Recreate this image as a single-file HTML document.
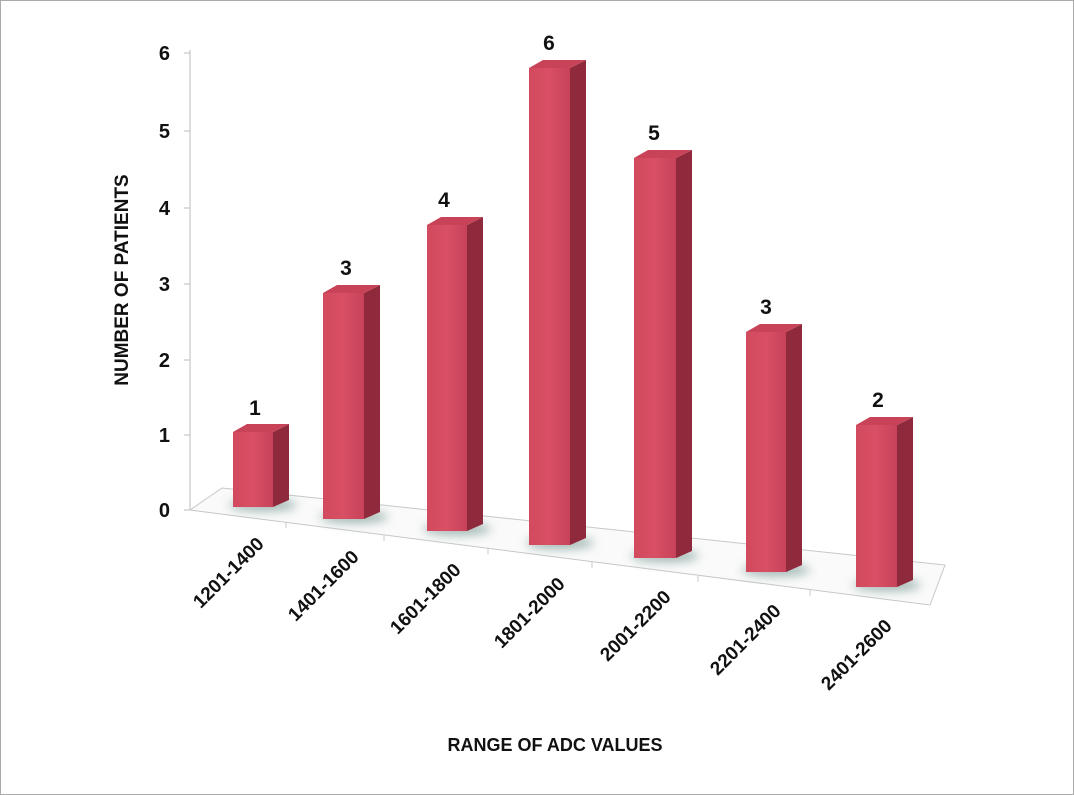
<!DOCTYPE html>
<html><head><style>body{margin:0;background:#fff}svg{display:block}text{font-family:"Liberation Sans",Arial,sans-serif;font-weight:bold;fill:#111}</style></head>
<body>
<svg width="1074" height="795" viewBox="0 0 1074 795">
<defs>
<linearGradient id="fr" x1="0" x2="1"><stop offset="0" stop-color="#d24a5e"/><stop offset="0.5" stop-color="#d94f64"/><stop offset="1" stop-color="#c7425a"/></linearGradient>
<filter id="bl" x="-50%" y="-200%" width="200%" height="500%"><feGaussianBlur stdDeviation="5"/></filter>
</defs>
<rect x="0.5" y="0.5" width="1073" height="794" fill="#fff" stroke="#aaa"/>
<line x1="190" y1="50" x2="190" y2="510" stroke="#bbb"/>
<g stroke="#bbb"><line x1="184" y1="53" x2="190" y2="53"/><line x1="184" y1="131" x2="190" y2="131"/><line x1="184" y1="208" x2="190" y2="208"/><line x1="184" y1="284" x2="190" y2="284"/><line x1="184" y1="360" x2="190" y2="360"/><line x1="184" y1="435" x2="190" y2="435"/><line x1="184" y1="510" x2="190" y2="510"/></g>
<polygon points="190,510 222,488 945,565 930,605" fill="#fafafa" stroke="#c8c8c8"/>
<g stroke="#c8c8c8"><line x1="286" y1="522" x2="286" y2="528"/><line x1="384" y1="535" x2="384" y2="541"/><line x1="488" y1="548" x2="488" y2="554"/><line x1="592" y1="562" x2="592" y2="568"/><line x1="698" y1="576" x2="698" y2="582"/><line x1="810" y1="590" x2="810" y2="596"/></g>
<g font-size="20" text-anchor="end">
<text x="170" y="60">6</text><text x="170" y="138">5</text><text x="170" y="215">4</text><text x="170" y="291">3</text><text x="170" y="367">2</text><text x="170" y="442">1</text><text x="170" y="517">0</text></g>

<g fill="#7f9d98" opacity="0.75" filter="url(#bl)">
<ellipse cx="263" cy="505" rx="34" ry="6"/><ellipse cx="354" cy="517" rx="34" ry="6"/><ellipse cx="457" cy="529" rx="34" ry="6"/><ellipse cx="560" cy="543" rx="34" ry="6"/><ellipse cx="665" cy="556" rx="34" ry="6"/><ellipse cx="776" cy="570" rx="34" ry="6"/><ellipse cx="887" cy="585" rx="34" ry="6"/>
</g>
<g fill="#8e2a3b">
<polygon points="273,432 289,424 289,500 273,507"/>
<polygon points="364,293 380,285 380,512 364,519"/>
<polygon points="467,225 483,217 483,524 467,531"/>
<polygon points="570,68 586,60 586,538 570,545"/>
<polygon points="676,158 692,150 692,551 676,558"/>
<polygon points="786,332 802,324 802,565 786,572"/>
<polygon points="897,425 913,417 913,580 897,587"/>
</g>
<g fill="#c84258">
<polygon points="233,432 247,424 289,424 273,432"/>
<polygon points="323,293 337,285 380,285 364,293"/>
<polygon points="427,225 441,217 483,217 467,225"/>
<polygon points="529,68 543,60 586,60 570,68"/>
<polygon points="634,158 648,150 692,150 676,158"/>
<polygon points="746,332 760,324 802,324 786,332"/>
<polygon points="856,425 870,417 913,417 897,425"/>
</g>
<g fill="url(#fr)">
<rect x="233" y="432" width="40" height="75"/>
<rect x="323" y="293" width="41" height="226"/>
<rect x="427" y="225" width="40" height="306"/>
<rect x="529" y="68" width="41" height="477"/>
<rect x="634" y="158" width="42" height="400"/>
<rect x="746" y="332" width="40" height="240"/>
<rect x="856" y="425" width="41" height="162"/>
</g>

<g font-size="21" text-anchor="middle">
<text x="255" y="415">1</text><text x="346" y="275">3</text><text x="444" y="207">4</text><text x="549" y="50">6</text><text x="654" y="140">5</text><text x="766" y="314">3</text><text x="878" y="407">2</text></g>
<g font-size="19" text-anchor="end">
<text transform="translate(265,545) rotate(-45)">1201-1400</text>
<text transform="translate(360,558) rotate(-45)">1401-1600</text>
<text transform="translate(462,571) rotate(-45)">1601-1800</text>
<text transform="translate(566,585) rotate(-45)">1801-2000</text>
<text transform="translate(672,598) rotate(-45)">2001-2200</text>
<text transform="translate(782,612) rotate(-45)">2201-2400</text>
<text transform="translate(893,627) rotate(-45)">2401-2600</text></g>
<text x="555" y="751" font-size="18" text-anchor="middle">RANGE OF ADC VALUES</text>
<text transform="translate(128,280) rotate(-90)" font-size="19" text-anchor="middle">NUMBER OF PATIENTS</text>
</svg>
</body></html>
